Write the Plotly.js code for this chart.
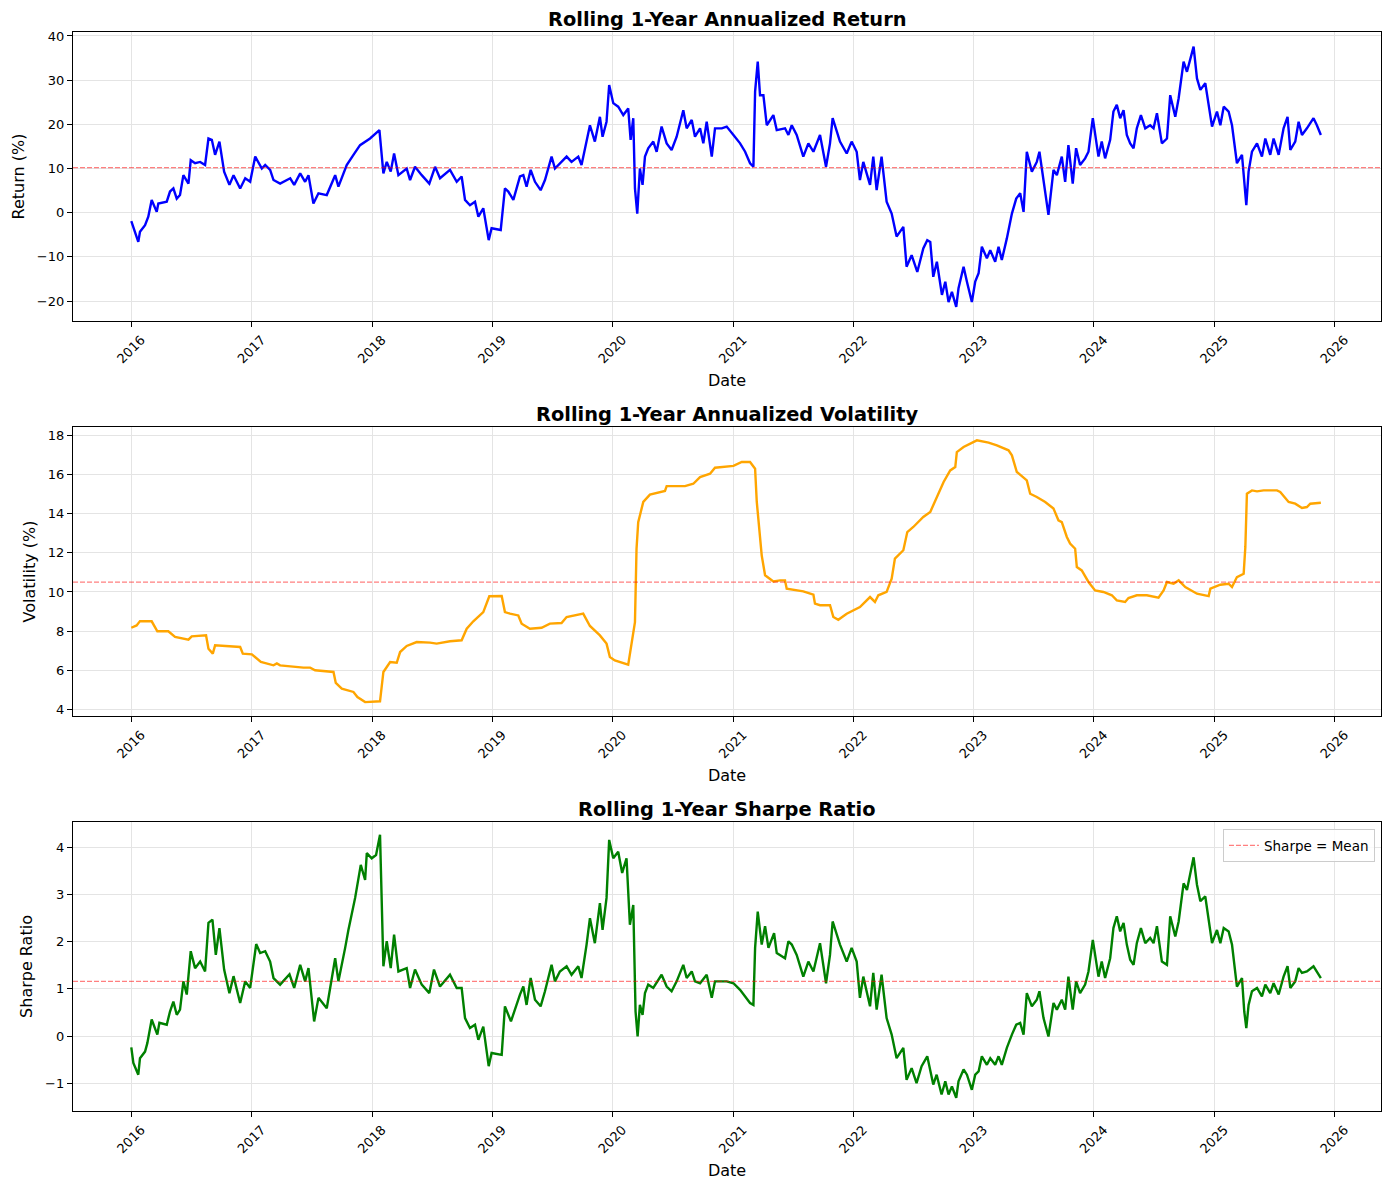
<!DOCTYPE html>
<html>
<head>
<meta charset="utf-8">
<script src="https://cdn.plot.ly/plotly-3.0.1.min.js"></script>
<style>html,body{margin:0;padding:0;background:#fff;}#chart{width:1389px;height:1189px;}</style>
</head>
<body>
<div id="chart"></div>
<script>
// ---- Data (dates as decimal years) ----
const retYears = [2016.000,2016.058,2016.072,2016.114,2016.141,2016.169,2016.211,2016.224,2016.294,2016.321,2016.349,2016.377,2016.404,2016.432,2016.474,2016.493,2016.529,2016.571,2016.612,2016.640,2016.668,2016.695,2016.731,2016.770,2016.814,2016.848,2016.903,2016.945,2016.986,2017.028,2017.083,2017.111,2017.152,2017.180,2017.235,2017.319,2017.352,2017.402,2017.443,2017.471,2017.512,2017.554,2017.623,2017.693,2017.720,2017.789,2017.845,2017.900,2017.983,2018.061,2018.094,2018.122,2018.155,2018.183,2018.219,2018.288,2018.316,2018.357,2018.413,2018.476,2018.524,2018.565,2018.648,2018.704,2018.745,2018.773,2018.814,2018.856,2018.884,2018.925,2018.970,2018.994,2019.070,2019.105,2019.133,2019.175,2019.230,2019.258,2019.285,2019.319,2019.355,2019.402,2019.438,2019.493,2019.521,2019.562,2019.618,2019.659,2019.715,2019.742,2019.784,2019.812,2019.853,2019.895,2019.917,2019.950,2019.972,2020.006,2020.047,2020.089,2020.130,2020.150,2020.172,2020.186,2020.205,2020.227,2020.249,2020.269,2020.296,2020.338,2020.366,2020.407,2020.449,2020.490,2020.532,2020.587,2020.615,2020.657,2020.684,2020.726,2020.753,2020.781,2020.823,2020.850,2020.906,2020.947,2021.003,2021.058,2021.100,2021.141,2021.169,2021.183,2021.205,2021.224,2021.252,2021.280,2021.335,2021.363,2021.432,2021.460,2021.488,2021.529,2021.584,2021.626,2021.668,2021.723,2021.773,2021.806,2021.828,2021.889,2021.945,2021.986,2022.028,2022.055,2022.083,2022.139,2022.166,2022.194,2022.235,2022.277,2022.319,2022.360,2022.416,2022.443,2022.485,2022.532,2022.582,2022.615,2022.640,2022.665,2022.695,2022.737,2022.765,2022.792,2022.820,2022.856,2022.875,2022.917,2022.945,2022.986,2023.014,2023.042,2023.069,2023.111,2023.139,2023.180,2023.208,2023.235,2023.277,2023.319,2023.355,2023.388,2023.416,2023.443,2023.485,2023.526,2023.548,2023.582,2023.623,2023.665,2023.693,2023.734,2023.762,2023.789,2023.825,2023.853,2023.886,2023.928,2023.956,2023.992,2024.039,2024.066,2024.094,2024.136,2024.163,2024.191,2024.219,2024.247,2024.274,2024.302,2024.330,2024.357,2024.391,2024.427,2024.468,2024.496,2024.524,2024.565,2024.607,2024.634,2024.676,2024.704,2024.745,2024.773,2024.801,2024.828,2024.856,2024.884,2024.925,2024.953,2024.981,2025.022,2025.050,2025.078,2025.119,2025.147,2025.188,2025.230,2025.249,2025.266,2025.285,2025.313,2025.355,2025.396,2025.424,2025.465,2025.493,2025.535,2025.576,2025.609,2025.632,2025.673,2025.701,2025.729,2025.770,2025.825,2025.853,2025.886];
const retValues = [-1.9,-6.6,-4.3,-2.8,-0.9,2.9,0.2,2.1,2.5,4.8,5.5,3.2,4.0,8.5,6.6,11.9,11.2,11.5,10.8,16.8,16.5,13.1,16.1,9.3,6.3,8.5,5.5,7.8,7.0,12.7,10.0,10.8,9.7,7.4,6.6,7.8,6.3,8.9,7.0,8.5,2.1,4.4,4.0,8.5,5.9,10.8,13.1,15.3,16.8,18.7,8.9,11.5,9.3,13.4,8.5,10.0,7.4,10.4,8.5,6.6,10.4,7.8,9.7,7.0,8.2,2.9,1.7,2.5,-0.9,1.0,-6.2,-3.5,-3.9,5.5,4.8,2.9,8.2,8.5,5.9,9.7,7.0,5.1,7.4,12.7,10.0,11.2,12.7,11.5,12.7,10.8,16.5,19.8,16.1,21.7,17.2,20.6,28.9,24.8,24.0,22.1,23.6,16.5,21.4,5.5,-0.2,10.0,6.3,12.7,14.6,16.1,13.8,19.5,15.7,14.2,17.2,23.2,19.1,21.0,17.2,19.1,15.7,20.6,12.7,19.1,19.1,19.5,17.6,15.7,13.8,11.2,10.4,27.4,34.2,26.6,26.6,19.8,22.1,18.7,19.1,17.6,19.8,17.6,12.7,15.7,13.8,17.6,10.4,15.7,21.4,16.1,13.4,16.1,13.8,7.4,11.5,6.3,12.7,5.1,12.7,2.5,-0.2,-5.4,-3.2,-12.2,-9.6,-13.4,-8.1,-6.2,-6.6,-14.5,-11.1,-18.6,-15.6,-20.2,-17.9,-21.3,-17.1,-12.2,-15.6,-20.2,-15.6,-13.7,-7.7,-10.3,-8.5,-11.1,-7.7,-10.7,-5.8,-0.2,3.2,4.4,0.2,13.8,9.3,11.5,13.8,7.0,-0.5,9.7,8.5,12.7,7.0,15.3,6.6,14.6,10.8,12.3,13.8,21.4,12.7,16.1,12.3,16.5,22.9,24.4,21.4,23.2,17.6,15.7,14.6,19.1,22.1,19.1,19.8,19.1,22.5,15.7,16.8,26.6,21.7,25.9,34.2,31.9,34.6,37.6,30.4,27.8,29.3,24.4,19.5,22.9,19.8,24.0,22.9,19.8,11.2,13.1,6.3,1.7,9.3,13.8,15.7,12.7,16.8,13.1,16.8,13.1,19.1,21.7,14.2,16.1,20.6,17.6,19.1,21.4,19.8,17.6];

const volYears = [2016.000,2016.044,2016.072,2016.169,2016.216,2016.307,2016.363,2016.474,2016.501,2016.571,2016.620,2016.640,2016.676,2016.695,2016.765,2016.903,2016.925,2017.000,2017.075,2017.180,2017.208,2017.235,2017.429,2017.485,2017.526,2017.679,2017.698,2017.748,2017.845,2017.878,2017.942,2018.066,2018.094,2018.150,2018.205,2018.233,2018.288,2018.371,2018.482,2018.537,2018.648,2018.745,2018.787,2018.842,2018.925,2018.975,2019.078,2019.105,2019.147,2019.216,2019.244,2019.313,2019.410,2019.479,2019.576,2019.618,2019.756,2019.812,2019.895,2019.950,2019.978,2020.019,2020.130,2020.158,2020.186,2020.199,2020.213,2020.227,2020.255,2020.310,2020.435,2020.449,2020.601,2020.670,2020.726,2020.809,2020.850,2021.003,2021.072,2021.141,2021.183,2021.197,2021.219,2021.238,2021.266,2021.335,2021.391,2021.432,2021.446,2021.584,2021.668,2021.681,2021.723,2021.806,2021.834,2021.875,2021.945,2022.055,2022.139,2022.180,2022.208,2022.277,2022.319,2022.346,2022.416,2022.449,2022.499,2022.582,2022.640,2022.695,2022.751,2022.806,2022.848,2022.861,2022.917,2023.028,2023.125,2023.194,2023.291,2023.319,2023.360,2023.443,2023.471,2023.526,2023.596,2023.665,2023.706,2023.734,2023.776,2023.803,2023.845,2023.859,2023.900,2023.956,2024.011,2024.080,2024.150,2024.191,2024.260,2024.288,2024.357,2024.440,2024.537,2024.579,2024.607,2024.662,2024.704,2024.759,2024.856,2024.953,2024.967,2025.050,2025.119,2025.147,2025.188,2025.244,2025.258,2025.271,2025.313,2025.355,2025.410,2025.521,2025.548,2025.618,2025.673,2025.729,2025.770,2025.798,2025.886];
const volValues = [8.17,8.29,8.51,8.50,7.99,7.99,7.70,7.56,7.73,7.78,7.78,7.10,6.85,7.27,7.24,7.19,6.85,6.81,6.42,6.25,6.35,6.25,6.13,6.13,6.00,5.91,5.35,5.06,4.89,4.63,4.37,4.41,5.91,6.42,6.38,6.93,7.24,7.44,7.41,7.36,7.48,7.53,8.12,8.50,8.97,9.78,9.79,8.97,8.89,8.80,8.38,8.12,8.17,8.38,8.41,8.72,8.89,8.26,7.78,7.36,6.67,6.50,6.28,7.44,8.46,12.21,13.57,13.91,14.60,14.97,15.16,15.41,15.41,15.53,15.87,16.04,16.35,16.44,16.64,16.64,16.30,14.60,12.89,11.87,10.85,10.54,10.59,10.59,10.17,10.03,9.86,9.40,9.32,9.32,8.72,8.58,8.89,9.23,9.74,9.49,9.83,10.00,10.68,11.70,12.13,13.06,13.32,13.83,14.09,14.85,15.62,16.21,16.38,17.15,17.41,17.75,17.63,17.49,17.24,16.98,16.13,15.70,15.02,14.85,14.60,14.26,13.66,13.57,12.81,12.47,12.21,11.27,11.10,10.51,10.08,10.00,9.83,9.57,9.49,9.69,9.83,9.83,9.71,10.08,10.51,10.42,10.59,10.25,9.91,9.79,10.17,10.37,10.42,10.25,10.76,10.93,12.30,15.02,15.19,15.14,15.19,15.19,15.11,14.60,14.51,14.29,14.34,14.51,14.56];

const sharpeYears = [2016.000,2016.017,2016.058,2016.072,2016.114,2016.133,2016.169,2016.216,2016.233,2016.294,2016.321,2016.349,2016.377,2016.404,2016.432,2016.460,2016.493,2016.529,2016.571,2016.612,2016.640,2016.673,2016.701,2016.731,2016.770,2016.814,2016.848,2016.903,2016.945,2016.986,2017.036,2017.069,2017.111,2017.152,2017.180,2017.235,2017.313,2017.352,2017.402,2017.443,2017.471,2017.518,2017.554,2017.623,2017.693,2017.720,2017.776,2017.803,2017.859,2017.906,2017.942,2017.956,2017.997,2018.033,2018.066,2018.094,2018.122,2018.155,2018.183,2018.219,2018.288,2018.316,2018.357,2018.413,2018.476,2018.515,2018.565,2018.648,2018.704,2018.745,2018.773,2018.814,2018.856,2018.884,2018.925,2018.970,2018.994,2019.078,2019.105,2019.155,2019.230,2019.258,2019.285,2019.319,2019.355,2019.402,2019.438,2019.493,2019.521,2019.562,2019.618,2019.659,2019.715,2019.742,2019.784,2019.812,2019.853,2019.895,2019.917,2019.950,2019.972,2020.006,2020.047,2020.080,2020.116,2020.144,2020.172,2020.191,2020.208,2020.227,2020.249,2020.269,2020.296,2020.338,2020.407,2020.449,2020.490,2020.532,2020.587,2020.615,2020.657,2020.684,2020.726,2020.781,2020.823,2020.850,2020.947,2021.003,2021.058,2021.100,2021.141,2021.169,2021.183,2021.205,2021.238,2021.266,2021.294,2021.341,2021.363,2021.432,2021.460,2021.488,2021.529,2021.584,2021.626,2021.668,2021.723,2021.773,2021.806,2021.828,2021.889,2021.945,2021.986,2022.028,2022.055,2022.083,2022.139,2022.166,2022.194,2022.235,2022.277,2022.319,2022.360,2022.416,2022.443,2022.485,2022.526,2022.568,2022.615,2022.665,2022.693,2022.734,2022.765,2022.792,2022.820,2022.856,2022.875,2022.917,2022.945,2022.986,2023.014,2023.042,2023.069,2023.111,2023.139,2023.180,2023.208,2023.235,2023.277,2023.319,2023.355,2023.388,2023.416,2023.443,2023.485,2023.526,2023.548,2023.582,2023.623,2023.665,2023.693,2023.734,2023.762,2023.789,2023.825,2023.853,2023.886,2023.928,2023.956,2023.992,2024.039,2024.066,2024.094,2024.136,2024.163,2024.191,2024.219,2024.247,2024.274,2024.302,2024.330,2024.357,2024.391,2024.427,2024.468,2024.496,2024.524,2024.565,2024.607,2024.634,2024.676,2024.704,2024.745,2024.773,2024.801,2024.828,2024.856,2024.884,2024.925,2024.953,2024.981,2025.022,2025.050,2025.078,2025.119,2025.147,2025.188,2025.230,2025.249,2025.266,2025.285,2025.313,2025.355,2025.396,2025.424,2025.465,2025.493,2025.535,2025.576,2025.609,2025.632,2025.673,2025.701,2025.729,2025.770,2025.825,2025.853,2025.886];
const sharpeValues = [-0.24,-0.57,-0.82,-0.47,-0.33,-0.15,0.35,0.03,0.28,0.24,0.52,0.73,0.45,0.56,1.16,0.88,1.80,1.44,1.58,1.37,2.40,2.47,1.72,2.29,1.41,0.91,1.27,0.70,1.16,1.02,1.95,1.76,1.80,1.58,1.23,1.09,1.31,1.02,1.51,1.16,1.44,0.31,0.81,0.59,1.65,1.16,1.87,2.25,2.93,3.63,3.31,3.88,3.77,3.84,4.27,1.48,2.01,1.44,2.15,1.37,1.44,1.02,1.41,1.09,0.91,1.41,1.05,1.30,1.02,1.02,0.38,0.17,0.24,-0.08,0.20,-0.64,-0.36,-0.40,0.63,0.31,0.88,1.05,0.66,1.23,0.77,0.63,0.95,1.51,1.16,1.37,1.48,1.30,1.48,1.23,1.94,2.50,1.97,2.82,2.25,2.93,4.16,3.77,3.91,3.46,3.77,2.36,2.78,0.52,-0.01,0.66,0.45,0.91,1.09,1.02,1.30,1.05,0.95,1.16,1.51,1.23,1.37,1.16,1.12,1.30,0.81,1.16,1.16,1.12,0.98,0.84,0.70,0.66,1.87,2.64,1.94,2.33,1.87,2.18,1.76,1.65,2.01,1.94,1.72,1.26,1.58,1.37,1.97,1.12,1.72,2.43,1.94,1.58,1.87,1.58,0.81,1.26,0.63,1.34,0.56,1.30,0.38,0.03,-0.47,-0.25,-0.93,-0.68,-1.00,-0.64,-0.43,-1.03,-0.82,-1.24,-0.96,-1.24,-1.07,-1.31,-0.96,-0.71,-0.82,-1.14,-0.82,-0.75,-0.43,-0.61,-0.47,-0.61,-0.43,-0.61,-0.25,0.03,0.24,0.28,0.03,0.91,0.63,0.77,0.95,0.38,-0.01,0.70,0.56,0.77,0.56,1.26,0.56,1.16,0.91,1.09,1.37,2.04,1.26,1.58,1.23,1.65,2.29,2.54,2.22,2.40,1.94,1.62,1.51,1.97,2.29,1.97,2.08,1.97,2.33,1.58,1.51,2.54,2.11,2.43,3.24,3.10,3.42,3.79,3.21,2.86,2.96,2.50,1.97,2.25,1.97,2.29,2.22,1.94,1.05,1.23,0.52,0.17,0.66,0.95,1.02,0.84,1.09,0.91,1.12,0.88,1.26,1.48,1.02,1.16,1.44,1.34,1.37,1.48,1.37,1.23];

const retMean = 10.2;
const volMean = 10.5;
const sharpeMean = 1.16;

const titles = ['Rolling 1-Year Annualized Return','Rolling 1-Year Annualized Volatility','Rolling 1-Year Sharpe Ratio'];
const yLabels = ['Return (%)','Volatility (%)','Sharpe Ratio'];
const xLabel = 'Date';
const meanLegend = 'Sharpe = Mean';

// decimal year -> date string
function toDate(y){
  const yr = Math.floor(y), f = y - yr;
  const a = Date.UTC(yr,0,1), b = Date.UTC(yr+1,0,1);
  return new Date(a + f*(b-a)).toISOString().slice(0,19).replace('T',' ');
}

const FONT = 'DejaVu Sans, Arial, sans-serif';
const traces = [
  {x: retYears.map(toDate), y: retValues, xaxis:'x', yaxis:'y', type:'scatter', mode:'lines', line:{color:'#0000ff', width:2.4}, showlegend:false},
  {x: volYears.map(toDate), y: volValues, xaxis:'x2', yaxis:'y2', type:'scatter', mode:'lines', line:{color:'#ffa500', width:2.4}, showlegend:false},
  {x: sharpeYears.map(toDate), y: sharpeValues, xaxis:'x3', yaxis:'y3', type:'scatter', mode:'lines', line:{color:'#008000', width:2.4}, showlegend:false}
];

const W = 1389, H = 1189, L = 73, R = 8, T = 32, B = 78;
const ph = H - T - B;
function dom(top, bottom){ return [(H - B - bottom)/ph, (H - B - top)/ph]; }
const doms = [dom(32,321), dom(427,716), dom(822,1111)];

function xa(){
  return {
    type:'date', range:['2015-07-08','2026-05-22'], tick0:'2016-01-01', dtick:'M12', tickformat:'%Y',
    tickangle:-45, ticks:'outside', ticklen:5, tickwidth:1, tickcolor:'#000',
    showline:true, linecolor:'#000', linewidth:1.2, mirror:true,
    showgrid:true, gridcolor:'#e4e4e4', gridwidth:1, zeroline:false,
    tickfont:{family:FONT, size:13, color:'#000'}, ticklabelshift:10,
    title:{text:xLabel, font:{family:FONT, size:16, color:'#000'}, standoff:9},
    automargin:false
  };
}
function ya(range, dtick, d){
  return {
    domain:d, range:range, dtick:dtick, ticks:'outside', ticklen:5, tickwidth:1, tickcolor:'#000',
    showline:true, linecolor:'#000', linewidth:1.2, mirror:true,
    showgrid:true, gridcolor:'#e4e4e4', gridwidth:1, zeroline:false,
    tickfont:{family:FONT, size:13, color:'#000'},
    automargin:false
  };
}

const layout = {
  width:W, height:H, margin:{l:L, r:R, t:T, b:B},
  paper_bgcolor:'#fff', plot_bgcolor:'#fff',
  font:{family:FONT, color:'#000'},
  xaxis: Object.assign(xa(), {anchor:'y'}),
  yaxis: Object.assign(ya([-24.5,40.9],10,doms[0]), {anchor:'x', title:{text:yLabels[0], font:{family:FONT,size:16,color:'#000'}, standoff:8}}),
  xaxis2: Object.assign(xa(), {anchor:'y2'}),
  yaxis2: Object.assign(ya([3.66,18.43],2,doms[1]), {anchor:'x2', title:{text:yLabels[1], font:{family:FONT,size:16,color:'#000'}, standoff:8}}),
  xaxis3: Object.assign(xa(), {anchor:'y3'}),
  yaxis3: Object.assign(ya([-1.59,4.54],1,doms[2]), {anchor:'x3', title:{text:yLabels[2], font:{family:FONT,size:16,color:'#000'}, standoff:8}}),
  shapes:[
    {type:'line', xref:'x domain', x0:0, x1:1, yref:'y', y0:retMean, y1:retMean, line:{color:'rgba(255,0,0,0.5)', width:1.2, dash:'5px,2px'}},
    {type:'line', xref:'x2 domain', x0:0, x1:1, yref:'y2', y0:volMean, y1:volMean, line:{color:'rgba(255,0,0,0.5)', width:1.2, dash:'5px,2px'}},
    {type:'line', xref:'x3 domain', x0:0, x1:1, yref:'y3', y0:sharpeMean, y1:sharpeMean, line:{color:'rgba(255,0,0,0.5)', width:1.2, dash:'5px,2px'}, showlegend:true, name:meanLegend}
  ],
  showlegend:true,
  legend:{x:0.9954, y:(H-B-829)/ph, xanchor:'right', yanchor:'top', bgcolor:'rgba(255,255,255,0.8)', bordercolor:'#cccccc', borderwidth:1, font:{family:FONT, size:13.5, color:'#000'}},
  annotations: titles.map((t,i)=>({text:'<b>'+t+'</b>', xref:'paper', yref:'paper', x:0.5, y:doms[i][1], xanchor:'center', yanchor:'bottom', yshift:-1, showarrow:false, font:{family:FONT, size:19.4, color:'#000'}}))
};

Plotly.newPlot('chart', traces, layout, {staticPlot:true, displayModeBar:false});
</script>
</body>
</html>
